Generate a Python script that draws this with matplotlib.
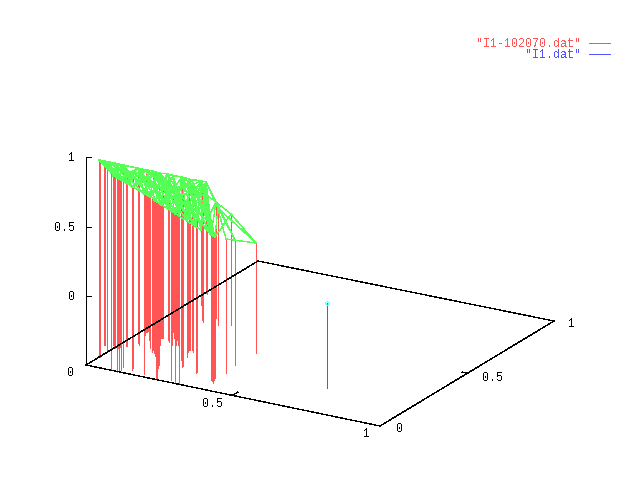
import matplotlib
matplotlib.use("Agg")
import matplotlib.pyplot as plt

RED = "#ff5555"
GREEN = "#55ff55"
BLUE = "#5555ff"
CYAN = "#55ffff"

red_x = [99, 104, 107, 111, 113, 115, 117, 119, 121, 123, 126, 132, 138, 144, 146, 148, 150, 153, 155, 157,
         159, 161, 162, 168, 171, 173, 175, 177, 179, 182, 187, 189, 192, 196, 201, 202, 206, 211, 213, 215,
         216, 218, 226, 231, 235, 256,
         114, 118, 120, 145, 147, 149, 152, 154, 156, 158, 160, 172, 174, 176, 178, 188,
         212, 214,
         127, 133, 139, 100, 105, 163, 169, 181, 183, 190, 193, 197, 203, 207, 206]
red_top = [160, 162, 163, 173, 176, 163, 178, 179, 180, 165, 183, 187, 168, 194, 170, 196, 197, 171, 201, 202,
           173, 205, 205, 174, 211, 176, 214, 190, 216, 177, 221, 179, 180, 227, 230, 181, 182, 235, 236, 237,
           202, 208, 239, 214, 240, 243,
           175, 177, 179, 194, 195, 197, 199, 200, 201, 202, 204, 211, 212, 214, 215, 221,
           236, 237,
           172, 178, 176, 160, 162, 188, 192, 197, 186, 205, 188, 212, 195, 220, 200]
red_base = [357, 345, 350, 370, 345, 348, 372, 372, 370, 367, 346, 370, 343, 374, 332, 331, 348, 350, 356, 380,
            365, 338, 338, 340, 380, 332, 382, 340, 383, 367, 357, 350, 350, 373, 305, 320, 293, 380, 383, 378,
            318, 325, 373, 325, 365, 353,
            347, 348, 347, 335, 332, 340, 352, 353, 378, 368, 345, 345, 338, 345, 345, 352,
            381, 380,
            346, 368, 345, 357, 345, 338, 342, 360, 366, 350, 352, 372, 322, 294, 293]

# order the green line walks through the red points
green_path = [0, 1, 3, 2, 6, 5, 8, 1, 10, 9, 11, 5, 13, 12, 16, 9, 18, 14, 21, 17, 24, 20, 26, 23, 28, 25, 30, 29,
              33, 31, 34, 36, 40, 43, 45, 42, 40, 37, 35, 39, 32, 38, 36, 44, 41, 45, 43, 39, 41, 36, 38, 35, 30,
              31, 26, 29, 22, 25, 18, 23, 15, 20, 13, 17, 11, 14, 10, 12, 7, 9, 4, 5, 0, 12, 24, 17, 33, 20, 37,
              29, 40, 36, 32, 35, 31, 29, 25, 23, 20, 17, 14, 12, 9, 5, 2, 1, 0, 6, 14, 27, 35, 34, 28, 19, 12, 8,
              14, 22, 32, 39, 31, 23, 16, 10, 1, 17, 30, 36, 37, 27, 20, 11, 2, 12, 26, 35, 33, 23, 18, 14, 7]
green_path2 = [67, 64, 65, 69, 71, 73, 75, 77, 37, 36, 76, 72, 70, 66, 64, 68, 66, 69, 72, 74, 76, 78, 39, 35, 78, 73,
               71, 70, 65, 9, 14, 70, 72, 74, 73, 77, 38, 17, 69, 71, 74, 76, 77, 40, 36, 78, 75, 34, 32, 75, 73, 30,
               29, 71, 28, 23, 70, 24, 20, 69, 21]

blue_x = [327]
blue_top = [303]
blue_base = [388]

frame_x = [86, 380, 554, 258, 86]
frame_y = [365, 426, 321, 261, 365]
zaxis_x = [86, 86]
zaxis_y = [365, 157]

z_ticks = [157, 227, 296]
z_labels = ["1", "0.5", "0"]
x_tick_labels = [("0", 71, 373), ("0.5", 213, 404), ("1", 367, 434)]
y_tick_labels = [("0", 400, 429), ("0.5", 493, 378), ("1", 572, 324)]
x_tick_segs = [([233, 238], [395, 392]), ([380, 385], [426, 423])]
y_tick_segs = [([467, 462], [373, 372]), ([554, 549], [321, 320])]

plt.rcParams["font.family"] = ["Liberation Mono", "DejaVu Sans Mono"]
plt.rcParams["text.antialiased"] = False

fig = plt.figure(figsize=(6.4, 4.8), dpi=100)
ax = fig.add_axes([0, 0, 1, 1])
ax.set_xlim(0, 640)
ax.set_ylim(480, 0)
ax.axis("off")

# aliased agg fattens slanted lines, so they get a much smaller width
lw_straight = 0.72
lw_slant = 0.2


def seg(xs, ys, color, lw=lw_straight):
    ax.plot(xs, ys, color=color, lw=lw, antialiased=False, solid_capstyle="butt")


for i in range(len(red_x)):
    seg([red_x[i], red_x[i]], [red_top[i], red_base[i]], RED)

seg(frame_x, frame_y, "black", lw_slant)
seg(zaxis_x, zaxis_y, "black")
for t in z_ticks:
    seg([86, 91], [t, t], "black")
for xs, ys in x_tick_segs + y_tick_segs:
    seg(xs, ys, "black", lw_slant)

for path in (green_path, green_path2):
    seg([red_x[i] for i in path], [red_top[i] for i in path], GREEN, lw_slant)

seg([blue_x[0], blue_x[0]], [blue_top[0], blue_base[0]], BLUE)
ax.plot(blue_x, blue_top, marker="D", ms=2.2, mfc="none", mec=CYAN, mew=0.72, ls="none")

fs = 8.5
for t, s in zip(z_ticks, z_labels):
    ax.text(75, t + 1, s, ha="right", va="center", fontsize=fs)
for s, x, y in x_tick_labels + y_tick_labels:
    ax.text(x, y, s, ha="center", va="center", fontsize=fs)

ax.text(581, 44, '"I1-102070.dat"', ha="right", va="center", fontsize=fs, color=RED)
ax.text(581, 55, '"I1.dat"', ha="right", va="center", fontsize=fs, color=BLUE)
seg([589, 610], [43, 43], RED)
seg([589, 610], [54, 54], BLUE)

fig.savefig("out.png", dpi=100)
